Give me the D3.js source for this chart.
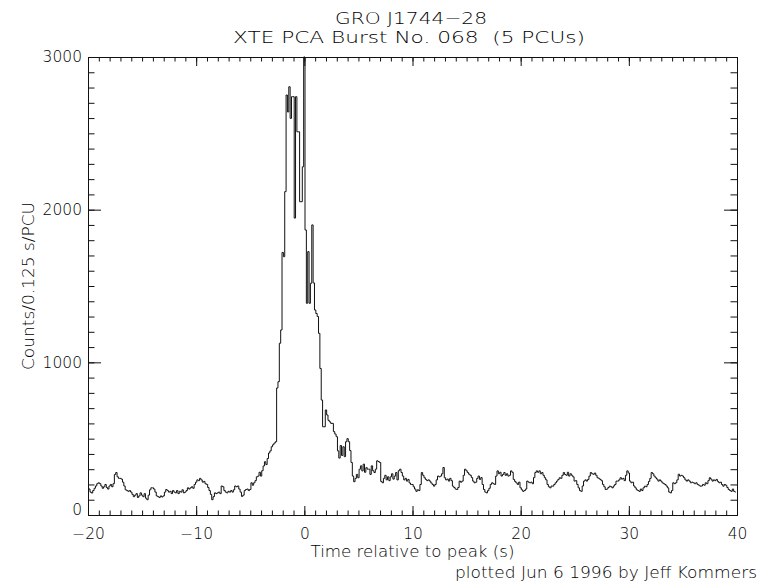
<!DOCTYPE html>
<html>
<head>
<meta charset="utf-8">
<script src="https://cdn.jsdelivr.net/npm/d3@7"></script>
<style>
  body { margin: 0; background: #fff; }
  svg text { font-family: "DejaVu Sans", sans-serif; font-weight: 200; fill: #000; white-space: pre; }
</style>
</head>
<body>
<svg id="chart" width="760" height="582"></svg>
<script>
// 0.125 s bins, bin centres from -20 s; one row per second
const binWidth = 0.125;
const startTime = -20;
const counts = [
  178, 170, 150, 144, 160, 175, 190, 205, // -20
  211, 205, 190, 175, 185, 200, 180, 170, // -19
  190, 200, 185, 205, 265, 278, 250, 240, // -18
  240, 235, 215, 190, 165, 160, 155, 160, // -17
  150, 135, 120, 130, 140, 115, 125, 145, // -16
  130, 120, 140, 110, 100, 130, 165, 178, // -15
  178, 170, 150, 125, 120, 115, 125, 118, // -14
  125, 150, 167, 160, 150, 155, 140, 160, // -13
  150, 145, 160, 140, 155, 150, 165, 145, // -12
  150, 160, 178, 170, 178, 185, 175, 200, // -11
  215, 230, 225, 240, 230, 215, 220, 205, // -10
  200, 180, 160, 135, 100, 120, 145, 140, // -9
  145, 150, 140, 190, 185, 160, 150, 145, // -8
  155, 150, 160, 150, 165, 190, 185, 190, // -7
  170, 150, 122, 130, 160, 167, 170, 160, // -6
  167, 211, 195, 211, 225, 250, 255, 280, // -5
  255, 290, 321, 349, 330, 370, 406, 420, // -4
  447, 460, 471, 480, 832, 873, 1125, 1212, // -3
  1720, 1692, 2118, 2751, 2640, 2805, 2598, 2740, // -2
  2740, 1945, 2740, 2510, 2510, 2052, 2052, 2281, // -1
  3000, 1867, 1387, 1725, 1387, 1518, 1900, 1520, // 0
  1343, 1320, 1300, 1190, 960, 753, 578, 578, // 1
  688, 655, 620, 610, 600, 600, 546, 530, // 2
  513, 420, 373, 455, 390, 447, 382, 480, // 3
  500, 480, 422, 344, 255, 218, 240, 266, // 4
  244, 300, 322, 289, 333, 280, 310, 300, // 5
  300, 266, 322, 290, 278, 300, 355, 350, // 6
  344, 220, 211, 240, 260, 230, 250, 225, // 7
  250, 270, 235, 255, 278, 230, 290, 300, // 8
  278, 255, 230, 240, 222, 233, 210, 200, // 9
  200, 185, 170, 155, 165, 160, 200, 278, // 10
  260, 244, 233, 225, 230, 222, 210, 200, // 11
  189, 200, 230, 255, 250, 255, 270, 311, // 12
  244, 230, 235, 222, 240, 225, 189, 180, // 13
  170, 167, 180, 222, 215, 222, 260, 300, // 14
  290, 278, 267, 260, 245, 222, 211, 215, // 15
  240, 255, 233, 245, 200, 167, 150, 145, // 16
  160, 175, 200, 211, 205, 200, 255, 289, // 17
  270, 280, 255, 265, 278, 260, 270, 255, // 18
  260, 289, 280, 233, 220, 210, 200, 215, // 19
  178, 165, 155, 160, 170, 222, 215, 211, // 20
  215, 205, 245, 278, 289, 280, 289, 270, // 21
  278, 260, 244, 230, 200, 185, 178, 190, // 22
  189, 200, 211, 222, 233, 244, 240, 260, // 23
  278, 265, 260, 280, 255, 270, 260, 250, // 24
  222, 225, 200, 178, 160, 155, 190, 222, // 25
  230, 222, 233, 255, 278, 270, 267, 275, // 26
  260, 244, 240, 233, 225, 200, 185, 167, // 27
  170, 180, 189, 185, 178, 190, 200, 222, // 28
  222, 230, 244, 235, 240, 225, 260, 289, // 29
  275, 222, 211, 215, 190, 178, 165, 160, // 30
  155, 170, 160, 178, 189, 185, 200, 220, // 31
  240, 278, 270, 255, 244, 235, 222, 230, // 32
  222, 211, 205, 200, 190, 178, 150, 145, // 33
  160, 211, 205, 211, 230, 267, 255, 260, // 34
  255, 244, 230, 222, 230, 222, 211, 215, // 35
  211, 205, 211, 200, 195, 189, 190, 200, // 36
  195, 211, 205, 225, 244, 235, 222, 230, // 37
  225, 233, 220, 211, 215, 200, 189, 200, // 38
  195, 180, 167, 160, 155, 170, 155, 150, // 39
];

const xMajor = [-20, -10, 0, 10, 20, 30, 40];
const xMinor = d3.range(-20, 41, 1);
const yMajor = [0, 1000, 2000, 3000];
const yMinor = d3.range(0, 3001, 100);

const titleLines = ['GRO J1744\u221228', 'XTE PCA Burst No. 068  (5 PCUs)'];
const xTitle = 'Time relative to peak (s)';
const yTitle = 'Counts/0.125 s/PCU';
const footnote = 'plotted Jun 6 1996 by Jeff Kommers';

const svg = d3.select('#chart');
const plotLeft = 88;
const plotRight = 737;
const plotTop = 57;
const plotBottom = 515;

const x = d3.scaleLinear().domain([-20, 40]).range([plotLeft, plotRight]);
const y = d3.scaleLinear().domain([0, 3000]).range([plotBottom, plotTop]);

const data = counts.map((c, i) => ({ t: startTime + i * binWidth, c }));

svg.append('defs').append('clipPath').attr('id', 'clip')
  .append('rect')
  .attr('x', plotLeft)
  .attr('y', plotTop - 1)
  .attr('width', plotRight - plotLeft)
  .attr('height', plotBottom - plotTop + 1);

const line = d3.line()
  .x((d) => x(d.t))
  .y((d) => y(d.c))
  .curve(d3.curveStep);

svg.append('path')
  .datum(data)
  .attr('clip-path', 'url(#clip)')
  .attr('fill', 'none')
  .attr('stroke', '#111')
  .attr('stroke-width', 1)
  .attr('d', line);

const fmt = (d) => (d < 0 ? `\u2212${-d}` : `${d}`);
const axisStyle = (g) => {
  g.select('.domain').attr('stroke', '#111');
  g.selectAll('.tick line').attr('stroke', '#111');
  g.selectAll('.tick text')
    .attr('font-family', '"DejaVu Sans", sans-serif')
    .attr('font-size', 15.5)
    .attr('font-weight', 200)
    .attr('fill', '#000');
};

// minor ticks on all four sides
svg.append('g').attr('transform', `translate(0,${plotBottom})`)
  .call(d3.axisBottom(x).tickValues(xMinor).tickSize(-4.5).tickFormat(''))
  .call(axisStyle);
svg.append('g').attr('transform', `translate(0,${plotTop})`)
  .call(d3.axisTop(x).tickValues(xMinor).tickSize(-4.5).tickFormat(''))
  .call(axisStyle);
svg.append('g').attr('transform', `translate(${plotLeft},0)`)
  .call(d3.axisLeft(y).tickValues(yMinor).tickSize(-6.5).tickFormat(''))
  .call(axisStyle);
svg.append('g').attr('transform', `translate(${plotRight},0)`)
  .call(d3.axisRight(y).tickValues(yMinor).tickSize(-6.5).tickFormat(''))
  .call(axisStyle);

// major ticks, labels bottom and left only
svg.append('g').attr('transform', `translate(0,${plotBottom})`)
  .call(d3.axisBottom(x).tickValues(xMajor).tickSize(-9).tickPadding(13).tickFormat(fmt))
  .call(axisStyle);
svg.append('g').attr('transform', `translate(0,${plotTop})`)
  .call(d3.axisTop(x).tickValues(xMajor).tickSize(-9).tickFormat(''))
  .call(axisStyle);
svg.append('g').attr('transform', `translate(${plotLeft},0)`)
  .call(d3.axisLeft(y).tickValues(yMajor).tickSize(-13).tickPadding(6).tickFormat(fmt))
  .call(axisStyle)
  .call((g) => g.selectAll('.tick text').filter((d) => d === 0).attr('y', -5));
svg.append('g').attr('transform', `translate(${plotRight},0)`)
  .call(d3.axisRight(y).tickValues(yMajor).tickSize(-13).tickFormat(''))
  .call(axisStyle);

const cx = (plotLeft + plotRight) / 2;
const titleWidths = [152, 352];

svg.append('g')
  .selectAll('text')
  .data(titleLines)
  .join('text')
  .attr('x', (d, i) => [411, 409][i])
  .attr('y', (d, i) => [24, 43][i])
  .attr('text-anchor', 'middle')
  .attr('font-size', 16)
  .attr('textLength', (d, i) => titleWidths[i])
  .attr('lengthAdjust', 'spacingAndGlyphs')
  .text((d) => d);

svg.append('text')
  .attr('x', cx)
  .attr('y', 557)
  .attr('text-anchor', 'middle')
  .attr('font-size', 15)
  .attr('textLength', 204)
  .attr('lengthAdjust', 'spacingAndGlyphs')
  .text(xTitle);

svg.append('text')
  .attr('x', 757)
  .attr('y', 578)
  .attr('text-anchor', 'end')
  .attr('font-size', 15)
  .attr('textLength', 302)
  .attr('lengthAdjust', 'spacingAndGlyphs')
  .text(footnote);

svg.append('text')
  .attr('transform', `translate(34,${(plotTop + plotBottom) / 2}) rotate(-90)`)
  .attr('text-anchor', 'middle')
  .attr('font-size', 15)
  .attr('textLength', 168)
  .attr('lengthAdjust', 'spacingAndGlyphs')
  .text(yTitle);
</script>
</body>
</html>
